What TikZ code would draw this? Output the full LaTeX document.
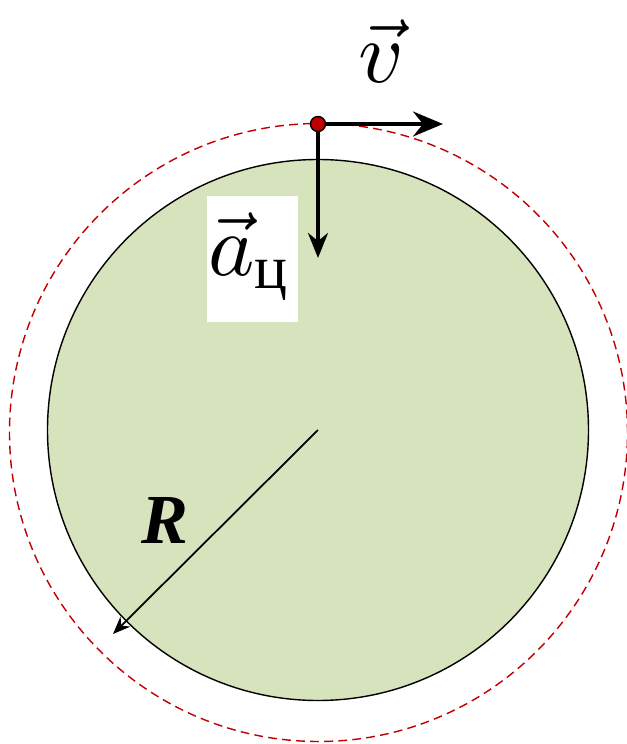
\documentclass[tikz,border=0pt]{standalone}
\usepackage{fontspec}
\usepackage{amsmath}
\newfontfamily\serifcyr{Liberation Serif}
\usetikzlibrary{arrows.meta}
\definecolor{diskgreen}{RGB}{215,227,188}
\definecolor{pathred}{RGB}{192,0,0}
\begin{document}
\begin{tikzpicture}[
    vec/.style={line width=2pt, -{Stealth[length=6mm, width=5mm, inset=2mm]}},
    radius arrow/.style={line width=1pt, -{Stealth[length=3.5mm, width=2.8mm]}}
]
    % Fix the frame of the picture
    \useasboundingbox (0,0) rectangle (12.54,14.88);

    % Draw the disk
    \coordinate (O) at (6.36,6.28);
    \draw[fill=diskgreen, line width=0.8pt] (O) circle (5.41);

    % Draw the dashed trajectory of the point
    \draw[pathred, line width=0.8pt, dash pattern=on 5pt off 3pt] (6.37,6.23) circle (6.18);

    % Radius arrow and its label
    \coordinate (Rend) at (2.26,2.2);
    \draw[radius arrow] (O) -- (Rend);
    \node[scale=4] (Rlabel) at (3.3,4.48) {\serifcyr\bfseries\itshape R};

    % Velocity and centripetal acceleration vectors
    \coordinate (P) at (6.36,12.4);
    \coordinate (Vend) at (8.86,12.4);
    \coordinate (Aend) at (6.36,9.72);
    \draw[vec] (P) -- (Vend);
    \draw[vec, line width=1.9pt, -{Stealth[length=5mm, width=4mm, inset=1.6mm]}] (P) -- (Aend);
    \draw[fill=pathred, line width=0.8pt] (P) circle (0.15);

    % Labels of the vectors
    \node[scale=5] (vlabel) at (7.62,13.85) {$\vec{v}$};
    \node[fill=white, minimum width=1.82cm, minimum height=2.52cm, inner sep=0pt] (alabel) at (5.05,9.7) {};
    \node[scale=5] (atext) at (5.0,9.75) {$\vec{a}_{\text{\serifcyr ц}}$};
\end{tikzpicture}
\end{document}
